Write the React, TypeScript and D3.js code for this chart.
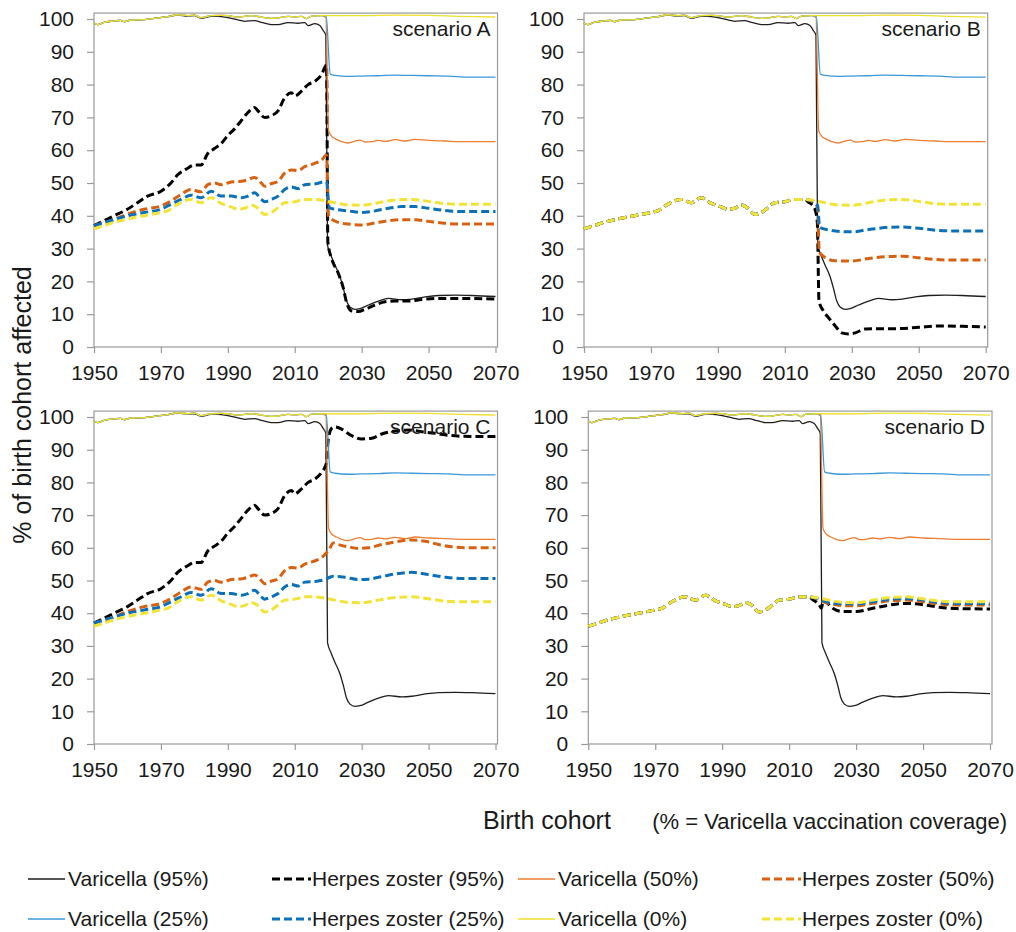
import React, { useRef, useEffect } from 'react';
import * as d3 from 'd3';

type Pt = [number, number];

const yearTicks = [1950, 1970, 1990, 2010, 2030, 2050, 2070];
const pctTicks = [0, 10, 20, 30, 40, 50, 60, 70, 80, 90, 100];

// varicella before vaccination, shared by the 0/25/50% lines
const varicellaHistory: Pt[] = [
  [1950, 98.8], [1951, 98.3], [1953, 99], [1956, 99.4], [1958, 99.6], [1959, 99.2], [1961, 99.7],
  [1965, 99.8], [1968, 100.2], [1972, 100.7], [1975, 101.3], [1978, 101], [1980, 101.2], [1982, 100.4],
  [1985, 101], [1988, 101.1], [1990, 101], [1993, 100.6], [1997, 101], [2000, 100.6], [2003, 100.2],
  [2005, 100.3], [2008, 100.8], [2010, 100.6], [2012, 100.8], [2013.5, 100.1], [2015, 100.9], [2018, 101],
];

const varicella0: Pt[] = [
  ...varicellaHistory,
  [2022, 101], [2030, 101], [2040, 101.2], [2050, 101.1], [2060, 100.8], [2070, 100.6],
];

const varicella50: Pt[] = [
  ...varicellaHistory,
  [2019.3, 100.5], [2020.1, 66], [2020.8, 64.5], [2022.5, 63.3], [2024, 62.6], [2026, 62.2], [2028, 62.8],
  [2029.5, 63.1], [2031, 62.5], [2033, 62.6], [2035, 63], [2037, 62.7], [2040, 63.2], [2043, 62.8],
  [2046, 63.3], [2050, 63], [2055, 62.8], [2060, 62.6], [2070, 62.6],
];

const varicella25: Pt[] = [
  ...varicellaHistory,
  [2019.4, 100.8], [2020.6, 83.2], [2022, 82.8], [2026, 82.5], [2030, 82.6], [2035, 82.7], [2040, 82.9],
  [2045, 82.8], [2050, 82.7], [2056, 82.6], [2062, 82.3], [2070, 82.3],
];

const varicella95: Pt[] = [
  [1950, 98.8], [1951, 98.3], [1953, 99], [1956, 99.4], [1958, 99.6], [1959, 99.2], [1961, 99.7],
  [1965, 99.8], [1968, 100.2], [1972, 100.7], [1975, 101.2], [1978, 100.9], [1980, 101], [1982, 100.2],
  [1985, 100.8], [1987, 100.8], [1990, 100.4], [1993, 99.7], [1995, 99.3], [1998, 99.5], [2000, 99],
  [2003, 98.3], [2005, 98.3], [2008, 98.9], [2011, 98.7], [2013, 98.9], [2014, 98], [2016, 98.6],
  [2017.5, 98], [2018.5, 96.5], [2019.3, 95], [2019.8, 31], [2020.8, 28], [2022, 25], [2023.5, 21.5],
  [2024.5, 18], [2025.5, 14], [2026.5, 12.2], [2028, 11.5], [2029.5, 11.7], [2032, 12.8], [2035, 14],
  [2038, 14.8], [2042, 14.4], [2045, 14.6], [2049, 15.3], [2053, 15.7], [2058, 15.8], [2063, 15.7], [2070, 15.4],
];

// herpes zoster without vaccination, shared start of scenarios B and D
const zosterHistory: Pt[] = [
  [1950, 36], [1953, 37], [1956, 38], [1960, 39], [1965, 40], [1970, 41], [1972, 41.5], [1975, 43.5],
  [1979, 45], [1982, 44], [1985, 45.5], [1988, 43.8], [1991, 42.7], [1993, 42], [1995, 42.3], [1997, 43.3],
  [1999, 42.3], [2001, 40.4], [2003, 41], [2005, 42.5], [2007, 44], [2010, 44.3], [2013, 45], [2016, 45],
];

const zoster0: Pt[] = [
  ...zosterHistory,
  [2019, 44.6], [2022, 44], [2026, 43.3], [2030, 43.2], [2035, 44], [2040, 44.8], [2045, 45],
  [2050, 44.4], [2055, 43.7], [2060, 43.5], [2070, 43.5],
];

// scenarios A and C before 2020
const zoster95Rise: Pt[] = [
  [1950, 37], [1953, 38.5], [1956, 40], [1960, 42], [1963, 44], [1966, 46], [1970, 47.5], [1973, 50],
  [1975, 52.5], [1978, 54.5], [1980, 55.5], [1982, 55.5], [1984, 59], [1986, 60.5], [1988, 62], [1990, 64.5],
  [1992, 66.5], [1994, 69], [1996, 71.5], [1998, 73], [1999, 72], [2001, 70], [2003, 70.5], [2005, 72],
  [2007, 76], [2009, 77.5], [2010, 76.5], [2012, 78], [2014, 80], [2016, 81], [2018, 83], [2019.5, 86],
];
const zoster50Rise: Pt[] = [
  [1950, 37], [1955, 38.5], [1960, 40.5], [1965, 42], [1970, 43], [1973, 44.5], [1976, 46.5], [1979, 48],
  [1982, 47.3], [1984, 49.5], [1986, 50], [1988, 49.5], [1991, 50.3], [1994, 50.5], [1996, 51], [1998, 51.7],
  [2000, 50], [2001, 49], [2003, 49.8], [2005, 50.5], [2007, 53], [2009, 54], [2011, 53.8], [2013, 55],
  [2016, 56], [2018, 57], [2019.5, 58.5],
];
const zoster25Rise: Pt[] = [
  [1950, 37], [1955, 38.5], [1960, 40], [1965, 41], [1970, 42], [1973, 43.5], [1976, 45], [1979, 46.3],
  [1982, 45.5], [1985, 47.5], [1988, 46], [1991, 46], [1994, 45.5], [1996, 46], [1998, 47], [2000, 45],
  [2001, 44.3], [2003, 45], [2005, 46], [2007, 48], [2009, 48.8], [2011, 48.3], [2013, 49.5], [2016, 49.7],
  [2019.5, 50.5],
];

const zoster95A: Pt[] = [
  ...zoster95Rise,
  [2019.9, 32], [2021, 27], [2023, 22.5], [2024.5, 18], [2025.5, 13.5], [2027, 11], [2029, 10.8], [2031, 11.5],
  [2034, 12.8], [2037, 13.8], [2040, 14], [2044, 14], [2048, 14.5], [2053, 14.8], [2060, 14.8], [2070, 14.6],
];
const zoster50A: Pt[] = [
  ...zoster50Rise,
  [2020.1, 40], [2021, 39], [2023, 38], [2026, 37.5], [2030, 37.2], [2034, 37.8], [2038, 38.5], [2042, 38.8],
  [2046, 38.8], [2050, 38.3], [2055, 37.7], [2060, 37.5], [2070, 37.5],
];
const zoster25A: Pt[] = [
  ...zoster25Rise,
  [2020.3, 42.5], [2022, 42], [2026, 41.5], [2030, 41], [2034, 41.5], [2038, 42.3], [2042, 42.8], [2046, 42.8],
  [2050, 42.3], [2055, 41.6], [2060, 41.3], [2070, 41.3],
];

const zoster95B: Pt[] = [
  ...zosterHistory,
  [2017, 44.2], [2018, 43.5], [2019, 42], [2019.7, 38], [2020.2, 14], [2021.5, 11], [2023, 9], [2025, 6.5],
  [2027, 4.3], [2029, 4], [2031, 4.3], [2034, 5.5], [2038, 5.6], [2044, 5.6], [2050, 6], [2056, 6.4],
  [2063, 6.3], [2070, 6.1],
];
const zoster50B: Pt[] = [
  ...zosterHistory,
  [2019, 44], [2019.8, 42], [2020.3, 29], [2022, 27.3], [2025, 26.3], [2030, 26.2], [2035, 27], [2040, 27.5],
  [2045, 27.7], [2050, 27.2], [2055, 26.7], [2060, 26.5], [2070, 26.5],
];
const zoster25B: Pt[] = [
  ...zosterHistory,
  [2019, 44.2], [2019.8, 43], [2020.4, 36.5], [2023, 35.7], [2027, 35.2], [2030, 35.1], [2035, 35.8],
  [2040, 36.4], [2045, 36.6], [2050, 36.2], [2055, 35.6], [2060, 35.4], [2070, 35.4],
];

const zoster95C: Pt[] = [
  ...zoster95Rise,
  [2020, 93], [2021, 96.5], [2022, 97], [2024, 96.3], [2027, 94.3], [2030, 93.3], [2033, 93.5], [2036, 94.8],
  [2040, 95.7], [2044, 96], [2048, 95.5], [2052, 95], [2056, 94.4], [2060, 94.1], [2070, 94],
];
const zoster50C: Pt[] = [
  ...zoster50Rise,
  [2020.3, 59.5], [2021.5, 61.5], [2023, 61], [2026, 60.3], [2029, 59.8], [2032, 60], [2036, 61], [2040, 61.8],
  [2045, 62.4], [2049, 62], [2053, 61], [2057, 60.3], [2062, 60], [2070, 60],
];
const zoster25C: Pt[] = [
  ...zoster25Rise,
  [2020.5, 51], [2021.5, 51.3], [2025, 51], [2029, 50.3], [2032, 50.4], [2036, 51.2], [2040, 52], [2045, 52.5],
  [2050, 51.8], [2055, 51], [2060, 50.6], [2070, 50.6],
];

const zoster95D: Pt[] = [
  ...zosterHistory,
  [2017, 44.2], [2018, 43.5], [2019, 42.5], [2019.6, 41.5], [2020.3, 44], [2021.5, 43], [2023, 41.5],
  [2026, 40.5], [2030, 40.5], [2035, 41.5], [2040, 42.5], [2045, 43], [2050, 42.6], [2055, 41.8],
  [2060, 41.4], [2070, 41.3],
];
const zoster50D: Pt[] = [
  ...zosterHistory,
  [2019, 44.2], [2020.3, 43.5], [2023, 42.8], [2026, 42.3], [2030, 42.3], [2035, 43], [2040, 43.8],
  [2045, 44], [2050, 43.5], [2055, 42.8], [2060, 42.5], [2070, 42.5],
];
const zoster25D: Pt[] = [
  ...zosterHistory,
  [2019, 44.3], [2020.3, 43.8], [2024, 43], [2030, 42.8], [2035, 43.5], [2040, 44.3], [2045, 44.5],
  [2050, 44], [2055, 43.2], [2060, 43], [2070, 43],
];

const seriesNames = [
  'Varicella (95%)', 'Herpes zoster (95%)', 'Varicella (50%)', 'Herpes zoster (50%)',
  'Varicella (25%)', 'Herpes zoster (25%)', 'Varicella (0%)', 'Herpes zoster (0%)',
];
const seriesColors = ['#1e1e1e', '#000000', '#ee7d30', '#d9600f', '#3a98d8', '#0b70ba', '#efe02c', '#f2e335'];
const seriesDashed = [false, true, false, true, false, true, false, true];

const scenarioNames = ['scenario A', 'scenario B', 'scenario C', 'scenario D'];
const scenarioZoster = [
  [zoster95A, zoster50A, zoster25A, zoster0],
  [zoster95B, zoster50B, zoster25B, zoster0],
  [zoster95C, zoster50C, zoster25C, zoster0],
  [zoster95D, zoster50D, zoster25D, zoster0],
];

const FONT = '"Liberation Sans", Arial, sans-serif';

function Chart() {
  const ref = useRef<SVGSVGElement>(null);

  useEffect(() => {
    const svg = d3.select(ref.current);
    svg.selectAll('*').remove();

    const boxes = [
      { left: 94, right: 495.5, bottom: 347, top100: 19 },
      { left: 584, right: 985.7, bottom: 347, top100: 19 },
      { left: 94, right: 495.5, bottom: 744, top100: 417 },
      { left: 588.3, right: 990, bottom: 744, top100: 417 },
    ];

    boxes.forEach((b, i) => {
      const x = d3.scaleLinear().domain([1950, 2070]).range([b.left, b.right]);
      const y = d3.scaleLinear().domain([0, 100]).range([b.bottom, b.top100]);
      const g = svg.append('g');

      // plot border
      g.append('rect')
        .attr('x', x(1950))
        .attr('y', y(101.8))
        .attr('width', x(2070.6) - x(1950))
        .attr('height', y(0) - y(101.8))
        .attr('fill', 'none')
        .attr('stroke', '#9a9a9a')
        .attr('stroke-width', 1.2);

      const yAxis = g.append('g')
        .attr('transform', 'translate(' + x(1950) + ',0)')
        .call(d3.axisLeft(y).tickValues(pctTicks).tickSize(7).tickSizeOuter(0).tickPadding(13));
      const xAxis = g.append('g')
        .attr('transform', 'translate(0,' + y(0) + ')')
        .call(d3.axisBottom(x).tickValues(yearTicks).tickFormat(d3.format('d')).tickSize(6).tickSizeOuter(0).tickPadding(12));

      [yAxis, xAxis].forEach(a => {
        a.select('.domain').remove();
        a.selectAll('line').attr('stroke', '#9a9a9a').attr('stroke-width', 1.2);
        a.selectAll('text').attr('font-family', FONT).attr('font-size', 21).attr('fill', '#1a1a1a');
      });

      const series = [
        varicella95, scenarioZoster[i][0], varicella50, scenarioZoster[i][1],
        varicella25, scenarioZoster[i][2], varicella0, scenarioZoster[i][3],
      ];
      const line = d3.line<Pt>()
        .x(d => x(d[0]))
        .y(d => y(d[1]))
        .curve(d3.curveMonotoneX);

      series.forEach((s, k) => {
        g.append('path')
          .attr('d', line(s))
          .attr('fill', 'none')
          .attr('stroke', seriesColors[k])
          .attr('stroke-width', seriesDashed[k] ? 3 : 1.3)
          .attr('stroke-dasharray', seriesDashed[k] ? '8,4' : null);
      });

      g.append('text')
        .attr('x', x(2070.6) - 7)
        .attr('y', y(101.8) + 23)
        .attr('text-anchor', 'end')
        .attr('font-family', FONT)
        .attr('font-size', 21)
        .attr('fill', '#1a1a1a')
        .text(scenarioNames[i]);
    });

    // axis titles
    svg.append('text')
      .attr('transform', 'translate(31,405) rotate(-90)')
      .attr('text-anchor', 'middle')
      .attr('font-family', FONT)
      .attr('font-size', 25)
      .attr('fill', '#1a1a1a')
      .text('% of birth cohort affected');

    svg.append('text')
      .attr('x', 483)
      .attr('y', 829)
      .attr('font-family', FONT)
      .attr('font-size', 25)
      .attr('fill', '#1a1a1a')
      .text('Birth cohort');

    svg.append('text')
      .attr('x', 1007)
      .attr('y', 829)
      .attr('text-anchor', 'end')
      .attr('font-family', FONT)
      .attr('font-size', 22)
      .attr('fill', '#1a1a1a')
      .text('(% = Varicella vaccination coverage)');

    // legend
    const legendCols = [28, 272, 518, 762];
    const legendRows = [879, 919];
    seriesNames.forEach((name, k) => {
      const row = Math.floor(k / 4);
      const col = k % 4;
      const lx = legendCols[col];
      const ly = legendRows[row];
      const lg = svg.append('g');
      lg.append('line')
        .attr('x1', lx)
        .attr('x2', lx + (seriesDashed[k] ? 39 : 37))
        .attr('y1', ly)
        .attr('y2', ly)
        .attr('stroke', seriesColors[k])
        .attr('stroke-width', seriesDashed[k] ? 3 : 1.6)
        .attr('stroke-dasharray', seriesDashed[k] ? '8,4' : null);
      lg.append('text')
        .attr('x', lx + 40)
        .attr('y', ly + 7)
        .attr('font-family', FONT)
        .attr('font-size', 21)
        .attr('fill', '#1a1a1a')
        .text(name);
    });
  }, []);

  return (
    <svg
      ref={ref}
      width={1016}
      height={932}
      style={{ position: 'absolute', left: 0, top: 0, background: '#ffffff' }}
    />
  );
}

export default function App() {
  return <Chart />;
}
